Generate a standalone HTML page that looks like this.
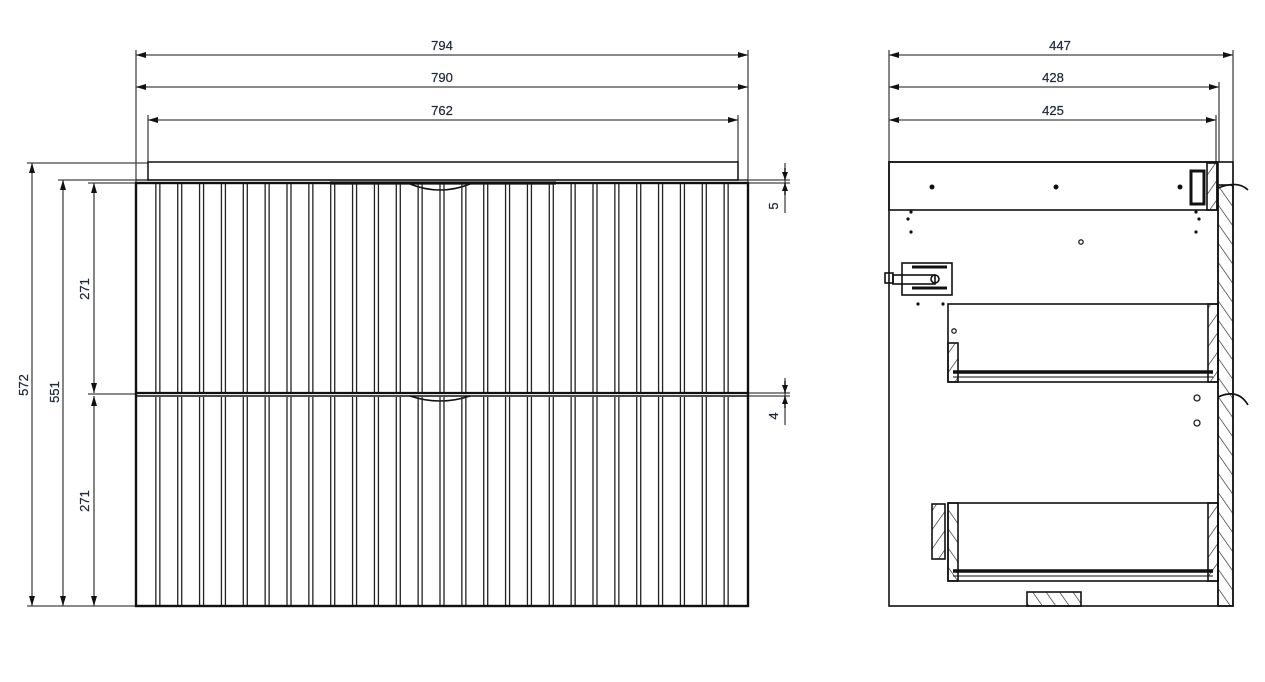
<!DOCTYPE html>
<html><head><meta charset="utf-8"><style>
html,body{margin:0;padding:0;background:#fff;}
svg{display:block;}
text{font-family:"Liberation Sans",sans-serif;font-size:13px;fill:#1e2a3c;stroke:#1e2a3c;stroke-width:0.25;}
</style></head><body>
<svg width="1265" height="682" viewBox="0 0 1265 682" xmlns="http://www.w3.org/2000/svg">
<defs>
<marker id="a" viewBox="0 0 10 6" refX="10" refY="3" markerWidth="10" markerHeight="6" orient="auto-start-reverse" markerUnits="userSpaceOnUse"><path d="M0,0L10,3L0,6z" fill="#111"/></marker>
<marker id="s" viewBox="0 0 8 6" refX="8" refY="3" markerWidth="8" markerHeight="6" orient="auto-start-reverse" markerUnits="userSpaceOnUse"><path d="M0,0L8,3L0,6z" fill="#111"/></marker>
<pattern id="h" width="11" height="11" patternUnits="userSpaceOnUse" patternTransform="rotate(35)"><line x1="0" y1="0" x2="0" y2="11" stroke="#222" stroke-width="1.3"/></pattern>
<pattern id="h2" width="11" height="11" patternUnits="userSpaceOnUse" patternTransform="rotate(-35)"><line x1="0" y1="0" x2="0" y2="11" stroke="#222" stroke-width="1.3"/></pattern>
</defs>
<g stroke="#444" stroke-width="1.3" fill="none">
<line x1="136" y1="50" x2="136" y2="183"/><line x1="748" y1="50" x2="748" y2="183"/>
<line x1="148" y1="115" x2="148" y2="162"/><line x1="738" y1="115" x2="738" y2="162"/>
<line x1="136" y1="55" x2="748" y2="55" marker-start="url(#a)" marker-end="url(#a)"/>
<line x1="136" y1="87" x2="748" y2="87" marker-start="url(#a)" marker-end="url(#a)"/>
<line x1="148" y1="120" x2="738" y2="120" marker-start="url(#a)" marker-end="url(#a)"/>
<line x1="27" y1="163" x2="148" y2="163"/><line x1="58" y1="180" x2="136" y2="180"/>
<line x1="88" y1="183" x2="136" y2="183"/><line x1="88" y1="394" x2="136" y2="394"/>
<line x1="27" y1="606" x2="136" y2="606"/>
<line x1="32" y1="163" x2="32" y2="606" marker-start="url(#a)" marker-end="url(#a)"/>
<line x1="63" y1="180" x2="63" y2="606" marker-start="url(#a)" marker-end="url(#a)"/>
<line x1="94" y1="183" x2="94" y2="393" marker-start="url(#a)" marker-end="url(#a)"/>
<line x1="94" y1="396" x2="94" y2="606" marker-start="url(#a)" marker-end="url(#a)"/>
<line x1="748" y1="180" x2="790" y2="180"/><line x1="748" y1="183" x2="790" y2="183"/>
<line x1="785" y1="163" x2="785" y2="213"/>
<line x1="748" y1="393" x2="790" y2="393"/><line x1="748" y1="396" x2="790" y2="396"/>
<line x1="785" y1="378" x2="785" y2="425"/>
<line x1="889" y1="50" x2="889" y2="162"/><line x1="1233" y1="50" x2="1233" y2="183"/>
<line x1="1219" y1="82" x2="1219" y2="162"/><line x1="1216" y1="115" x2="1216" y2="162"/>
<line x1="889" y1="55" x2="1233" y2="55" marker-start="url(#a)" marker-end="url(#a)"/>
<line x1="889" y1="87" x2="1219" y2="87" marker-start="url(#a)" marker-end="url(#a)"/>
<line x1="889" y1="120" x2="1216" y2="120" marker-start="url(#a)" marker-end="url(#a)"/>
</g>
<g stroke="#111" stroke-width="1.3">
<line x1="785" y1="168" x2="785" y2="180" marker-end="url(#s)"/>
<line x1="785" y1="195" x2="785" y2="183" marker-end="url(#s)"/>
<line x1="785" y1="381" x2="785" y2="393" marker-end="url(#s)"/>
<line x1="785" y1="408" x2="785" y2="396" marker-end="url(#s)"/>
</g>
<text x="442" y="50" text-anchor="middle">794</text>
<text x="442" y="82" text-anchor="middle">790</text>
<text x="442" y="115" text-anchor="middle">762</text>
<text x="1060" y="50" text-anchor="middle">447</text>
<text x="1053" y="82" text-anchor="middle">428</text>
<text x="1053" y="115" text-anchor="middle">425</text>
<text transform="translate(28,385) rotate(-90)" text-anchor="middle">572</text>
<text transform="translate(59,392) rotate(-90)" text-anchor="middle">551</text>
<text transform="translate(89,289) rotate(-90)" text-anchor="middle">271</text>
<text transform="translate(89,501) rotate(-90)" text-anchor="middle">271</text>
<text transform="translate(778,206) rotate(-90)" text-anchor="middle">5</text>
<text transform="translate(778,416) rotate(-90)" text-anchor="middle">4</text>

<g stroke="#111" fill="none">
<rect x="148" y="162" width="590" height="18" stroke-width="1.5"/>
<line x1="136" y1="180" x2="748" y2="180" stroke-width="1.2"/>
<rect x="136" y="183" width="612" height="423" stroke-width="2.4"/>
<line x1="136" y1="393" x2="748" y2="393" stroke-width="2.2"/>
<line x1="136" y1="396" x2="748" y2="396" stroke-width="1.6"/>
<line x1="330" y1="183" x2="556" y2="183" stroke-width="3.2"/>
<path d="M410,184 Q440,196 470,184" stroke-width="1.6"/>
<path d="M410,396 Q440,406 470,396" stroke-width="1.6"/>
</g>
<g stroke="#222" stroke-width="1.3" id="grooves"></g>

<g stroke="#111" fill="none" stroke-width="1.6">
<rect x="889" y="162" width="344" height="444"/>
<rect x="889" y="162" width="328" height="48"/>
<rect x="1207" y="163" width="10" height="47" fill="url(#h)"/>
<rect x="1218" y="185" width="15" height="421" fill="url(#h2)"/>
<line x1="1218" y1="162" x2="1218" y2="606"/>
<rect x="1191" y="171" width="13" height="33" stroke-width="3"/>
<path d="M1218,188 Q1238,180 1248,190"/>
<path d="M1218,397 Q1238,388 1248,405"/>
<rect x="948" y="304" width="270" height="78"/>
<rect x="1208" y="304" width="10" height="78" fill="url(#h)"/>
<rect x="948" y="343" width="10" height="39" fill="url(#h)"/>
<line x1="953" y1="372" x2="1213" y2="372" stroke-width="3.5"/>
<line x1="953" y1="377" x2="1213" y2="377" stroke-width="1"/>
<rect x="948" y="503" width="270" height="78"/>
<rect x="1208" y="503" width="10" height="78" fill="url(#h)"/>
<rect x="948" y="503" width="10" height="78" fill="url(#h2)"/>
<rect x="932" y="504" width="13" height="55" fill="url(#h)"/>
<line x1="953" y1="571" x2="1213" y2="571" stroke-width="3.5"/>
<line x1="953" y1="576" x2="1213" y2="576" stroke-width="1"/>
<rect x="1027" y="592" width="54" height="14" fill="url(#h2)"/>
<rect x="902" y="263" width="50" height="32"/>
<rect x="885" y="273" width="8" height="10"/>
<rect x="893" y="275" width="42" height="9"/>
<circle cx="935" cy="279" r="4"/>
<line x1="912" y1="267" x2="947" y2="267" stroke-width="3"/>
<line x1="912" y1="288" x2="947" y2="288" stroke-width="3"/>
</g>
<g fill="#111">
<circle cx="932" cy="187" r="2.5"/><circle cx="1056" cy="187" r="2.5"/><circle cx="1180" cy="187" r="2.5"/>
<circle cx="911" cy="212" r="1.6"/><circle cx="908" cy="219" r="1.6"/><circle cx="911" cy="232" r="1.6"/>
<circle cx="1196" cy="212" r="1.6"/><circle cx="1199" cy="219" r="1.6"/><circle cx="1196" cy="232" r="1.6"/>
<circle cx="918" cy="304" r="1.6"/><circle cx="943" cy="304" r="1.6"/>
</g>
<g fill="none" stroke="#222" stroke-width="1.3">
<circle cx="1081" cy="242" r="2.2"/>
<circle cx="954" cy="331" r="2.2"/>
<circle cx="1197" cy="398" r="3"/><circle cx="1197" cy="423" r="3"/>
</g>
</svg>
<script>
(function(){
var ns="http://www.w3.org/2000/svg",g=document.getElementById("grooves");
var w=612/28;
for(var k=1;k<28;k++){var x=136+w*k;
[[184,392],[397,605]].forEach(function(r){
[x-2,x+2].forEach(function(xx){var l=document.createElementNS(ns,"line");
l.setAttribute("x1",xx);l.setAttribute("x2",xx);l.setAttribute("y1",r[0]);l.setAttribute("y2",r[1]);g.appendChild(l);});
});}
})();
</script>
</body></html>
